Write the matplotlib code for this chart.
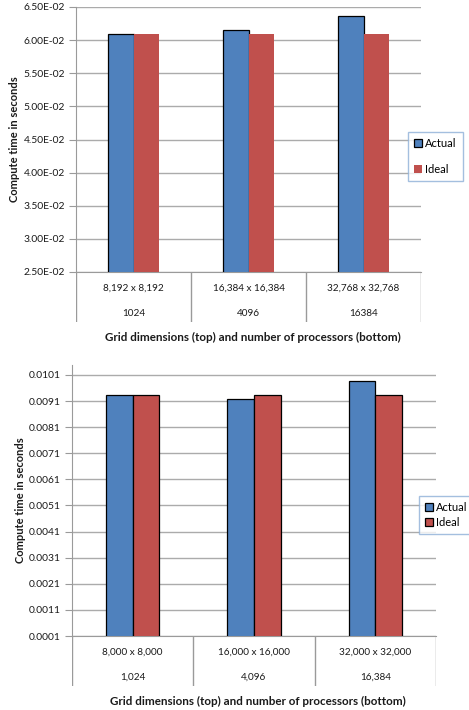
import matplotlib
matplotlib.use("Agg")
import matplotlib.pyplot as plt
import numpy as np
from matplotlib.patches import Patch

plt.rcParams['font.family'] = ['Lato', 'DejaVu Sans']

# ---- data ----
top_grid = ["8,192 x 8,192", "16,384 x 16,384", "32,768 x 32,768"]
top_procs = ["1024", "4096", "16384"]
top_actual = [0.0610, 0.0616, 0.0637]
top_ideal = [0.0609, 0.0609, 0.0609]
top_ticks = [0.025, 0.030, 0.035, 0.040, 0.045, 0.050, 0.055, 0.060, 0.065]
top_ticklabels = ["2.50E-02", "3.00E-02", "3.50E-02", "4.00E-02", "4.50E-02",
                  "5.00E-02", "5.50E-02", "6.00E-02", "6.50E-02"]

bot_grid = ["8,000 x 8,000", "16,000 x 16,000", "32,000 x 32,000"]
bot_procs = ["1,024", "4,096", "16,384"]
bot_actual = [0.00935, 0.00919, 0.00987]
bot_ideal = [0.00935, 0.00935, 0.00935]
bot_ticks = [0.0001, 0.0011, 0.0021, 0.0031, 0.0041, 0.0051, 0.0061, 0.0071,
             0.0081, 0.0091, 0.0101]
bot_ticklabels = ["0.0001", "0.0011", "0.0021", "0.0031", "0.0041", "0.0051",
                  "0.0061", "0.0071", "0.0081", "0.0091", "0.0101"]

series_names = ["Actual", "Ideal"]
BLUE = "#4F81BD"
RED = "#C0504D"
GRID = "#ABABAB"
AXIS = "#9A9A9A"
LEG_EDGE = "#8EB0D8"
TXT = "#1A1A1A"

W, H = 469, 710
fig = plt.figure(figsize=(W / 100, H / 100), dpi=100)


def px_axes(x0, y0, x1, y1):
    return fig.add_axes([x0 / W, 1 - y1 / H, (x1 - x0) / W, (y1 - y0) / H])


def draw_chart(box, ylim, ticks, ticklabels, actual, ideal, grid_lbl, proc_lbl,
               ideal_edge, table_h, ylabel_x, xlabel_y, legend_box, legend_spacing):
    x0, y0, x1, y1 = box
    ax = px_axes(x0, y0, x1, y1)
    n = len(actual)
    x = np.arange(n)
    bw = 0.22
    ax.bar(x - bw / 2, actual, bw, color=BLUE,
           edgecolor="black", linewidth=0.9, zorder=3)
    ax.bar(x + bw / 2, ideal, bw, color=RED,
           edgecolor="black" if ideal_edge else RED,
           linewidth=0.9 if ideal_edge else 0.0, zorder=3)
    ax.set_xlim(-0.5, n - 0.5)
    ax.set_ylim(*ylim)
    ax.set_yticks(ticks)
    ax.set_yticklabels(ticklabels)
    ax.yaxis.grid(True, color=GRID, linewidth=1.0, zorder=0)
    ax.set_axisbelow(True)
    for s in ["top", "right"]:
        ax.spines[s].set_visible(False)
    ax.spines["left"].set_color(AXIS)
    ax.spines["bottom"].set_color(AXIS)
    ax.tick_params(axis="y", direction="out", length=5, color=AXIS,
                   labelsize=7.4, pad=3, labelcolor=TXT)
    ax.tick_params(axis="x", bottom=False, labelbottom=False)

    # category table beneath the plot area
    tx = px_axes(x0, y1, x1, y1 + table_h)
    tx.set_xlim(-0.5, n - 0.5)
    tx.set_ylim(0, 1)
    tx.axis("off")
    for b in np.arange(n + 1) - 0.5:
        tx.axvline(b, color=AXIS, linewidth=1.0)
    for i in range(n):
        tx.text(i, 0.68, grid_lbl[i], ha="center", va="center", fontsize=7.2,
                color=TXT)
        tx.text(i, 0.18, proc_lbl[i], ha="center", va="center", fontsize=7.2,
                color=TXT)

    fig.text(ylabel_x / W, 1 - ((y0 + y1) / 2) / H, "Compute time in seconds",
             rotation=90, ha="center", va="center", fontsize=8,
             fontweight="bold", color=TXT)
    fig.text(((x0 + x1) / 2 + 4) / W, 1 - xlabel_y / H,
             "Grid dimensions (top) and number of processors (bottom)",
             ha="center", va="center", fontsize=8.4, fontweight="bold",
             color=TXT)

    handles = [Patch(facecolor=BLUE, edgecolor="black", linewidth=0.9),
               Patch(facecolor=RED, edgecolor="black" if ideal_edge else RED,
                     linewidth=0.9 if ideal_edge else 0.0)]
    lx, ly = legend_box
    leg = fig.legend(handles, series_names, loc="upper left",
                     bbox_to_anchor=(lx / W, 1 - ly / H), fontsize=8,
                     frameon=True, fancybox=False, handlelength=0.7,
                     handleheight=0.7, handletextpad=0.3,
                     labelspacing=legend_spacing, borderpad=0.55,
                     borderaxespad=0)
    leg.get_frame().set_edgecolor(LEG_EDGE)
    leg.get_frame().set_linewidth(1.0)
    return ax


draw_chart((76, 7, 421, 272), (0.025, 0.065), top_ticks, top_ticklabels,
           top_actual, top_ideal, top_grid, top_procs, ideal_edge=False,
           table_h=50, ylabel_x=14, xlabel_y=337, legend_box=(408, 132),
           legend_spacing=1.3)

draw_chart((72, 365, 436, 636), (0.0001, 0.01048), bot_ticks, bot_ticklabels,
           bot_actual, bot_ideal, bot_grid, bot_procs, ideal_edge=True,
           table_h=50, ylabel_x=20, xlabel_y=701, legend_box=(419, 496),
           legend_spacing=0.35)

fig.savefig("out.png", dpi=100)
